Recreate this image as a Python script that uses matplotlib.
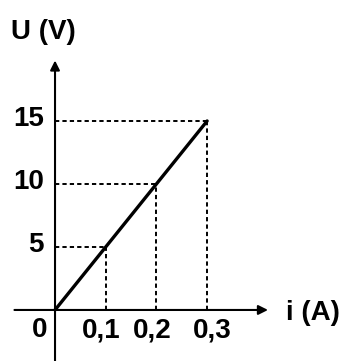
import matplotlib
matplotlib.use("Agg")
import matplotlib.pyplot as plt

# Data
current = [0.0, 0.1, 0.2, 0.3]        # i (A)
voltage = [0.0, 5.0, 10.0, 15.0]      # U (V)
x_ticks = [0.1, 0.2, 0.3]
x_tick_labels = ["0,1", "0,2", "0,3"]
y_ticks = [5, 10, 15]
y_tick_labels = ["5", "10", "15"]

plt.rcParams['font.family'] = ["Liberation Sans", "DejaVu Sans"]

fig = plt.figure(figsize=(3.41, 3.61), dpi=100)
ax = fig.add_axes([0, 0, 1, 1])
ax.set_xlim(-0.1085, 0.564)
ax.set_ylim(-4.05, 24.6)
ax.axis('off')

# axes with arrows
ax.annotate("", xy=(0.42, 0), xytext=(-0.08, 0),
            arrowprops=dict(arrowstyle="-|>", color="black", lw=1.5,
                            mutation_scale=14, shrinkA=0, shrinkB=0))
ax.annotate("", xy=(0, 19.8), xytext=(0, -4.05),
            arrowprops=dict(arrowstyle="-|>", color="black", lw=1.5,
                            mutation_scale=14, shrinkA=0, shrinkB=0))

# main line
ax.plot(current, voltage, color="black", lw=2.4, solid_capstyle="round")

# dashed guides
for xv, yv in zip(current[1:], voltage[1:]):
    ax.plot([0, xv], [yv, yv], color="black", lw=1.4, ls=(0, (2.2, 1.6)))
    ax.plot([xv, xv], [0, yv], color="black", lw=1.4, ls=(0, (2.2, 1.6)))

fs = 20
x_label_pos = [0.091, 0.192, 0.310]
for xv, lab in zip(x_label_pos, x_tick_labels):
    ax.text(xv, -1.6, lab, ha="center", va="center", fontsize=fs, fontweight="bold")
ax.text(-0.031, -1.6, "0", ha="center", va="center", fontsize=fs, fontweight="bold")
for yv, lab in zip(y_ticks, y_tick_labels):
    ax.text(-0.022, yv + 0.15, lab, ha="right", va="center", fontsize=fs, fontweight="bold")

ax.text(-0.087, 22.1, "U (V)", ha="left", va="center", fontsize=fs, fontweight="bold")
ax.text(0.455, -0.25, "i (A)", ha="left", va="center", fontsize=fs, fontweight="bold")

fig.savefig("out.png", dpi=100)
